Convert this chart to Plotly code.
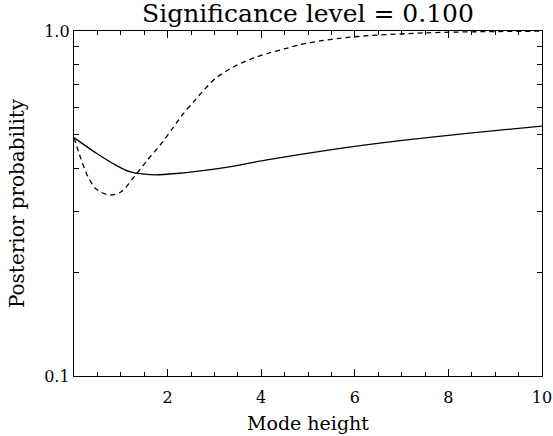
import plotly.graph_objects as go

# Solid curve
solid_x = [0.0, 0.48, 0.83, 1.19, 1.72, 2.25, 2.70, 3.32, 4.12, 5.55, 6.97, 8.40, 10.0]
solid_y = [0.491, 0.442, 0.413, 0.391, 0.383, 0.387, 0.393, 0.404, 0.423, 0.454, 0.481, 0.505, 0.530]

# Dashed curve
dash_x = [0.0, 0.12, 0.30, 0.48, 0.76, 1.01, 1.26, 1.54, 1.90, 2.11, 2.34, 2.56, 2.73, 3.02,
          3.37, 3.76, 4.15, 4.54, 4.83, 5.26, 5.68, 6.18, 7.53, 8.6, 10.0]
dash_y = [0.491, 0.437, 0.378, 0.3475, 0.3346, 0.342, 0.374, 0.418, 0.478, 0.523, 0.577,
          0.624, 0.664, 0.728, 0.782, 0.828, 0.862, 0.891, 0.913, 0.936, 0.952, 0.967, 0.988, 0.995, 0.999]

x_tickvals = [2, 4, 6, 8, 10]
x_ticktext = ["2", "4", "6", "8", "10"]
y_tickvals = [0.1, 1.0]
y_ticktext = ["0.1", "1.0"]
y_minor = [0.2, 0.3, 0.4, 0.5, 0.6, 0.7, 0.8, 0.9]

FONT = "DejaVu Serif"

fig = go.Figure()
fig.add_trace(go.Scatter(x=solid_x, y=solid_y, mode="lines", hoverinfo="skip",
                         line=dict(color="black", width=1.3, shape="spline", smoothing=0.8), showlegend=False))
fig.add_trace(go.Scatter(x=dash_x, y=dash_y, mode="lines", hoverinfo="skip",
                         line=dict(color="black", width=1.3, dash="5px,4px", shape="spline", smoothing=0.8), showlegend=False))

fig.update_layout(
    width=553, height=436,
    margin=dict(l=74, r=11, t=31, b=60, autoexpand=False),
    paper_bgcolor="white", plot_bgcolor="white",
    title=dict(text="Significance level = 0.100", x=0.5, xanchor="center", xref="paper",
               y=1 - 13 / 436, yref="container", yanchor="middle",
               font=dict(family=FONT, size=25, color="black")),
    font=dict(family=FONT, color="black"),
)
fig.update_xaxes(
    range=[0, 10], tickvals=x_tickvals, ticktext=x_ticktext, automargin=False,
    ticks="inside", ticklen=7, tickcolor="black", tickwidth=1, ticklabelstandoff=7,
    minor=dict(dtick=0.5, tick0=0, ticks="inside", ticklen=4, tickcolor="black"),
    showline=True, linecolor="black", linewidth=1.3, mirror="ticks",
    showgrid=False, zeroline=False,
    tickfont=dict(family=FONT, size=16, color="black"),
    title=dict(text="Mode height", font=dict(family=FONT, size=19, color="black"), standoff=10),
)
fig.update_yaxes(
    type="log", range=[-1, 0], tickvals=y_tickvals, ticktext=y_ticktext, automargin=False,
    ticks="inside", ticklen=7, tickcolor="black",
    minor=dict(tickvals=y_minor, ticks="inside", ticklen=5, tickcolor="black"),
    showline=True, linecolor="black", linewidth=1.3, mirror="ticks",
    showgrid=False, zeroline=False,
    tickfont=dict(family=FONT, size=16, color="black"),
    title=dict(text="Posterior probability", font=dict(family=FONT, size=20, color="black"), standoff=14),
)

# remove the browser's default 8px body margin so the 553x436 figure fills the window exactly
fig.write_html("out.html", config={"displayModeBar": False},
               post_script="document.body.style.margin='0px';")
